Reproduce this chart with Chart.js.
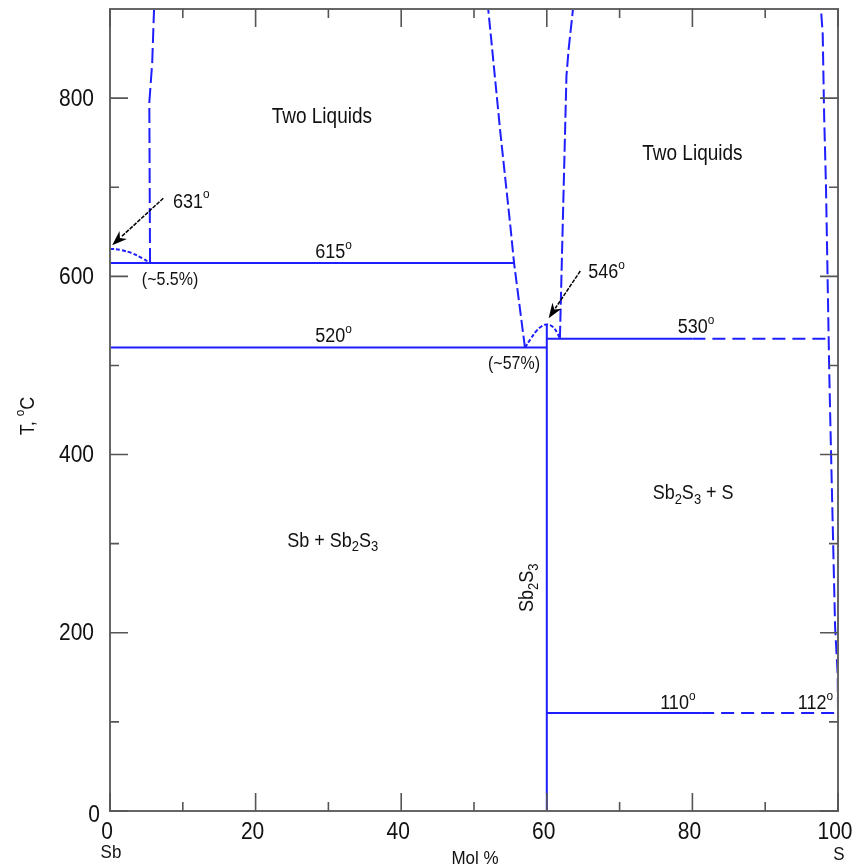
<!DOCTYPE html>
<html><head><meta charset="utf-8">
<script src="https://cdn.jsdelivr.net/npm/chart.js@4"></script>
<style>html,body{margin:0;padding:0;background:#fff;}#wrap{width:859px;height:868px;position:relative;}</style>
</head><body><div id="wrap"><canvas id="c" width="859" height="868"></canvas></div>
<script>
// ---------- data (Mol % S, T °C) ----------
const xTickValues = [0, 20, 40, 60, 80, 100];
const xTickLabels = ['0', '20', '40', '60', '80', '100'];
const xMinorTicks = [10, 30, 50, 70, 90];
const yTickValues = [0, 200, 400, 600, 800];
const yTickLabels = ['0', '200', '400', '600', '800'];
const yMinorTicks = [100, 300, 500, 700];

const tie615 = [[0, 615], [55.5, 615]];
const eut520 = [[0, 520], [60, 520]];
const mono530Solid = [[60, 530], [80, 530]];
const mono530Dash = [[80, 530], [98.7, 530]];
const eut110Solid = [[60, 110], [81.2, 110]];
const eut110Dash = [[81.2, 110], [100, 110]];
const sb2s3Line = [[60, 0], [60, 546]];
const sb2s3Dome = [[57, 520], [57.8, 530], [58.5, 538], [59.3, 544], [60, 546], [60.8, 543.5], [61.4, 537], [61.8, 530]];
const sbLiquidus = [[0, 631], [1.5, 629.5], [3, 626], [4.5, 620], [5.5, 615]];
const gapLeftSb = [[5.5, 615], [5.4, 795], [5.8, 840], [6.05, 900]];
const gapRightSb = [[57, 520], [55.5, 615], [55.0, 656], [53.6, 763], [52.4, 863], [51.95, 900]];
const gapLeftS = [[61.8, 530], [62.7, 825], [63.0, 855], [63.6, 900]];
const gapRightS = [[100, 112], [99.96, 153], [99.6, 207], [98.94, 439], [98.8, 492], [98.35, 701], [98.1, 779], [97.9, 872], [97.66, 900]];

const arrow631 = [[7.32, 687.6], [0.3, 635]];
const arrow546 = [[64.6, 606], [60.25, 553]];

// annotations: segments [text, mode] mode 0 normal, 1 subscript, 2 superscript
const annotations = [
  {segs: [['Two Liquids', 0]], x: 29.1, y: 779, align: 'center', size: 19},
  {segs: [['Two Liquids', 0]], x: 80.0, y: 737, align: 'center', size: 19},
  {segs: [['631', 0], ['o', 2]], x: 8.66, y: 683, align: 'left'},
  {segs: [['615', 0], ['o', 2]], x: 30.7, y: 626.5, align: 'center'},
  {segs: [['520', 0], ['o', 2]], x: 30.7, y: 532, align: 'center'},
  {segs: [['(~5.5%)', 0]], x: 8.25, y: 595.5, align: 'center', size: 16},
  {segs: [['(~57%)', 0]], x: 55.5, y: 501, align: 'center', size: 16},
  {segs: [['546', 0], ['o', 2]], x: 65.7, y: 604, align: 'left'},
  {segs: [['530', 0], ['o', 2]], x: 80.5, y: 542.7, align: 'center'},
  {segs: [['110', 0], ['o', 2]], x: 78.0, y: 120.6, align: 'center'},
  {segs: [['112', 0], ['o', 2]], x: 96.9, y: 120.6, align: 'center'},
  {segs: [['Sb + Sb', 0], ['2', 1], ['S', 0], ['3', 1]], x: 30.6, y: 303, align: 'center'},
  {segs: [['Sb', 0], ['2', 1], ['S', 0], ['3', 1], [' + S', 0]], x: 80.1, y: 356, align: 'center'},
  {segs: [['Sb', 0], ['2', 1], ['S', 0], ['3', 1]], x: 57.3, y: 250.6, align: 'center', rotate: true}
];

const BLUE = 'rgb(30,30,255)';
const FONT = '"Liberation Sans", Arial, sans-serif';
const STRETCH = 1.12;
const toXY = a => a.map(p => ({x: p[0], y: p[1]}));

function ds(arr, dash, tension) {
  return {data: toXY(arr), showLine: true, borderColor: BLUE, backgroundColor: BLUE,
    borderWidth: 2, borderDash: dash || [], pointRadius: 0, fill: false, tension: tension || 0};
}

function txt(ctx, t, x, y) {
  ctx.save(); ctx.translate(x, y); ctx.scale(1, STRETCH); ctx.fillText(t, 0, 0); ctx.restore();
}
function segSize(m, size) { return m === 0 ? size : (m === 1 ? size * 0.72 : size * 0.66); }
function richWidth(ctx, segs, size) {
  let w = 0;
  for (const [t, m] of segs) {
    ctx.font = segSize(m, size) + 'px ' + FONT;
    w += ctx.measureText(t).width;
  }
  return w;
}
function drawRich(ctx, segs, x, y, size, align) {
  const w = richWidth(ctx, segs, size);
  let cx = align === 'center' ? x - w / 2 : (align === 'right' ? x - w : x);
  ctx.textAlign = 'left';
  ctx.textBaseline = 'middle';
  for (const [t, m] of segs) {
    const dy = m === 0 ? 0 : (m === 1 ? size * 0.36 : -size * 0.42);
    ctx.font = segSize(m, size) + 'px ' + FONT;
    txt(ctx, t, cx, y + dy);
    cx += ctx.measureText(t).width;
  }
}

const framePlugin = {
  id: 'frame',
  afterDraw(chart) {
    const ctx = chart.ctx, xs = chart.scales.x, ys = chart.scales.y, a = chart.chartArea;
    ctx.save();
    // arrows
    for (const arr of [arrow631, arrow546]) {
      const x1 = xs.getPixelForValue(arr[0][0]), y1 = ys.getPixelForValue(arr[0][1]);
      const x2 = xs.getPixelForValue(arr[1][0]), y2 = ys.getPixelForValue(arr[1][1]);
      const ang = Math.atan2(y2 - y1, x2 - x1);
      const L = 15, H = 5.5;
      ctx.strokeStyle = '#000'; ctx.lineWidth = 1.5; ctx.setLineDash([4, 1.2]);
      ctx.beginPath(); ctx.moveTo(x1, y1);
      ctx.lineTo(x2 - Math.cos(ang) * L * 0.8, y2 - Math.sin(ang) * L * 0.8); ctx.stroke();
      ctx.setLineDash([]);
      ctx.fillStyle = '#000';
      ctx.beginPath(); ctx.moveTo(x2, y2);
      ctx.lineTo(x2 - Math.cos(ang) * L - Math.sin(ang) * H, y2 - Math.sin(ang) * L + Math.cos(ang) * H);
      ctx.lineTo(x2 - Math.cos(ang) * L * 0.7, y2 - Math.sin(ang) * L * 0.7);
      ctx.lineTo(x2 - Math.cos(ang) * L + Math.sin(ang) * H, y2 - Math.sin(ang) * L - Math.cos(ang) * H);
      ctx.closePath(); ctx.fill();
    }
    // frame
    ctx.strokeStyle = '#666'; ctx.lineWidth = 2;
    ctx.strokeRect(a.left, a.top, a.right - a.left, a.bottom - a.top);
    ctx.lineWidth = 1.6; ctx.strokeStyle = '#555';
    const tk = (vals, len) => {
      for (const v of vals) {
        const px = xs.getPixelForValue(v);
        ctx.beginPath(); ctx.moveTo(px, a.bottom); ctx.lineTo(px, a.bottom - len);
        ctx.moveTo(px, a.top); ctx.lineTo(px, a.top + len); ctx.stroke();
      }
    };
    const tky = (vals, len) => {
      for (const v of vals) {
        const py = ys.getPixelForValue(v);
        ctx.beginPath(); ctx.moveTo(a.left, py); ctx.lineTo(a.left + len, py);
        ctx.moveTo(a.right, py); ctx.lineTo(a.right - len, py); ctx.stroke();
      }
    };
    tk(xTickValues, 18); tk(xMinorTicks, 9);
    tky(yTickValues, 18); tky(yMinorTicks, 9);
    // tick labels
    ctx.fillStyle = '#111';
    ctx.font = '21px ' + FONT;
    ctx.textBaseline = 'middle';
    ctx.textAlign = 'center';
    xTickValues.forEach((v, i) => {
      txt(ctx, xTickLabels[i], xs.getPixelForValue(v) - 3, a.bottom + 22);
    });
    ctx.textAlign = 'right';
    yTickValues.forEach((v, i) => {
      const py = ys.getPixelForValue(v);
      if (v === 0) txt(ctx, yTickLabels[i], a.left - 10, py + 5);
      else txt(ctx, yTickLabels[i], a.left - 16, py + 1);
    });
    // component names & axis titles
    ctx.font = '17px ' + FONT; ctx.textAlign = 'center';
    txt(ctx, 'Sb', xs.getPixelForValue(0) + 1, a.bottom + 42);
    txt(ctx, 'S', xs.getPixelForValue(100) + 1, a.bottom + 44);
    txt(ctx, 'Mol %', xs.getPixelForValue(50) + 1, a.bottom + 48);
    ctx.save();
    ctx.translate(28, 416); ctx.rotate(-Math.PI / 2);
    drawRich(ctx, [['T, ', 0], ['o', 2], ['C', 0]], 0, 0, 18, 'center');
    ctx.restore();
    // annotations
    ctx.fillStyle = '#111';
    for (const an of annotations) {
      const px = xs.getPixelForValue(an.x), py = ys.getPixelForValue(an.y);
      const size = an.size || 18;
      if (an.rotate) {
        ctx.save(); ctx.translate(px, py); ctx.rotate(-Math.PI / 2);
        drawRich(ctx, an.segs, 0, 0, size, 'center');
        ctx.restore();
      } else {
        drawRich(ctx, an.segs, px, py, size, an.align);
      }
    }
    ctx.restore();
  }
};

new Chart(document.getElementById('c'), {
  type: 'scatter',
  data: {
    datasets: [
      ds(tie615), ds(eut520), ds(mono530Solid), ds(mono530Dash, [13, 7]),
      ds(eut110Solid), ds(eut110Dash, [13, 7]), ds(sb2s3Line),
      ds(sb2s3Dome, [4, 2], 0.4), ds(sbLiquidus, [4, 2], 0.4),
      ds(gapLeftSb, [15, 5]), ds(gapRightSb, [12, 4]), ds(gapLeftS, [13, 4]), ds(gapRightS, [14, 5])
    ]
  },
  options: {
    responsive: false, animation: false, events: [],
    layout: {padding: {left: 110, right: 21, top: 9, bottom: 57}},
    plugins: {legend: {display: false}, tooltip: {enabled: false}},
    scales: {
      x: {type: 'linear', min: 0, max: 100, display: false},
      y: {type: 'linear', min: 0, max: 900, display: false}
    }
  },
  plugins: [framePlugin]
});
</script>
</body></html>
